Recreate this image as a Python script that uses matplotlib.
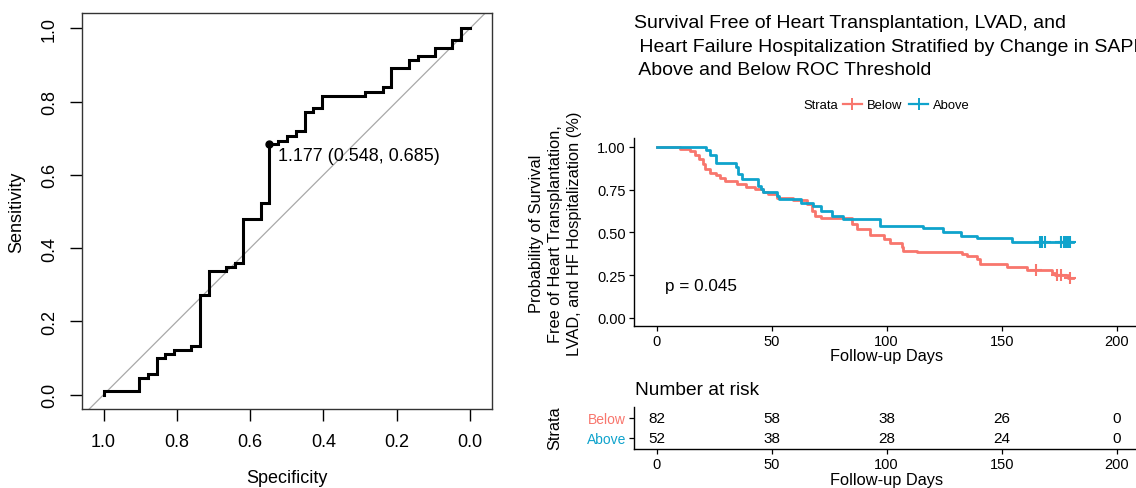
import matplotlib
matplotlib.use("Agg")
import matplotlib.pyplot as plt
from matplotlib.lines import Line2D

plt.rcParams['font.family'] = ['Liberation Sans', 'DejaVu Sans']

# ---------------- data ----------------
# ROC curve corner points (specificity, sensitivity)
roc_spec = [1.0, 1.0, 0.9035, 0.88, 0.855, 0.832, 0.807, 0.761, 0.737, 0.713,
            0.666, 0.642, 0.619, 0.570, 0.548, 0.523, 0.500, 0.476, 0.450, 0.428,
            0.404, 0.287, 0.238, 0.215, 0.166, 0.143, 0.095, 0.049, 0.025, 0.0]
roc_sens = [0.0, 0.011, 0.045, 0.057, 0.099, 0.111, 0.121, 0.133, 0.272, 0.338,
            0.348, 0.359, 0.479, 0.523, 0.685, 0.693, 0.707, 0.719, 0.772, 0.784,
            0.816, 0.827, 0.839, 0.892, 0.913, 0.925, 0.947, 0.969, 1.0, 1.0]
thr_label = "1.177 (0.548, 0.685)"
thr_spec, thr_sens = 0.548, 0.685
roc_ticks = [1.0, 0.8, 0.6, 0.4, 0.2, 0.0]

# Kaplan-Meier step functions
km_below_t = [0, 10.1, 14.5, 16.7, 18.5, 20, 21, 23.2, 25.8, 27.8, 29.7, 34.8, 39.1,
              42.7, 46.4, 48.5, 52.2, 59.4, 65.2, 67.4, 68.8, 71.7, 84.8, 87, 92.7,
              98.8, 101.3, 106.5, 107.2, 113, 132.6, 134.8, 139.1, 140.6, 152.2,
              160.9, 171.7, 173.2, 179, 181]
km_below_s = [1, 0.988, 0.975, 0.955, 0.926, 0.897, 0.868, 0.849, 0.833, 0.82, 0.8,
              0.781, 0.767, 0.752, 0.736, 0.723, 0.703, 0.69, 0.665, 0.626, 0.597,
              0.581, 0.548, 0.519, 0.484, 0.461, 0.436, 0.413, 0.393, 0.387, 0.374,
              0.364, 0.345, 0.316, 0.297, 0.281, 0.263, 0.248, 0.235, 0.235]
km_above_t = [0, 21.7, 23.2, 25.8, 34.5, 35.5, 37, 44.2, 45.2, 46.4, 52.2, 53.3, 63,
              68.1, 71.7, 76.1, 81.1, 97.1, 115.9, 124.6, 132.2, 139.4, 154.3, 181.1]
km_above_s = [1, 0.98, 0.955, 0.907, 0.884, 0.839, 0.814, 0.771, 0.752, 0.733, 0.713,
              0.694, 0.674, 0.655, 0.626, 0.597, 0.577, 0.538, 0.523, 0.5, 0.48,
              0.465, 0.442, 0.442]
cens_below_t = [164.8, 174.0, 175.7, 179.7]
cens_below_s = [0.281, 0.248, 0.248, 0.235]
cens_above_t = [166.7, 167.6, 168.9, 176.0, 177.0, 178.0, 179.0, 179.8]
cens_above_s = [0.442] * 8
pval_text = "p = 0.045"

risk_times = [0, 50, 100, 150, 200]
risk_below = [82, 58, 38, 26, 0]
risk_above = [52, 38, 28, 24, 0]
strata = ["Below", "Above"]

RED = "#F8766D"
BLUE = "#0FA3CC"

W, H = 1136, 489
fig = plt.figure(figsize=(W / 100, H / 100), dpi=100)

def fx(px):
    return px / W

def fy(py):
    return 1 - py / H

# ---------------- ROC panel ----------------
ax = fig.add_axes([fx(82.3), fy(410), fx(492.3) - fx(82.3), fy(14) - fy(410)])
ax.set_xlim(1.058, -0.061)
ax.set_ylim(-0.039, 1.042)
ax.plot([1.2, -0.2], [-0.2, 1.2], color="#a8a8a8", lw=0.9, zorder=1)
ax.plot(roc_spec, roc_sens, color="black", lw=2.2, drawstyle="steps-post",
        solid_joinstyle="miter", zorder=3)
ax.plot([thr_spec], [thr_sens], "o", color="black", ms=5, zorder=4)
ax.text(0.525, 0.652, thr_label, fontsize=13, ha="left", va="center")
ax.set_xticks(roc_ticks)
ax.set_xticklabels([f"{v:.1f}" for v in roc_ticks])
ax.set_yticks(roc_ticks)
ax.set_yticklabels([f"{v:.1f}" for v in roc_ticks], rotation=90, va="center")
ax.tick_params(direction="out", length=8.5, width=1, labelsize=13, pad=9,
               colors="black")
for s in ax.spines.values():
    s.set_linewidth(1.0)
    s.set_color("#333333")
fig.text(fx(286.7), fy(478.3), "Specificity", fontsize=13, ha="center", va="center")
fig.text(fx(17), fy(212), "Sensitivity", fontsize=13, ha="center", va="center",
         rotation=90)

# ---------------- KM panel ----------------
L, R = 633.5, 1139.7
km = fig.add_axes([fx(L), fy(327.3), fx(R) - fx(L), fy(139.3) - fy(327.3)])
km.set_xlim(-10, 210)
km.set_ylim(-0.05, 1.05)
km.plot(km_below_t, km_below_s, color=RED, lw=2.0, drawstyle="steps-post")
km.plot(km_above_t, km_above_s, color=BLUE, lw=2.0, drawstyle="steps-post")
km.plot(cens_below_t, cens_below_s, "+", color=RED, ms=8, mew=1.5)
km.plot(cens_above_t, cens_above_s, "+", color=BLUE, ms=8, mew=1.5)
km.text(3.6, 0.19, pval_text, fontsize=12.3, ha="left", va="center")
km.set_xticks(risk_times)
km.set_yticks([0, 0.25, 0.5, 0.75, 1.0])
km.set_yticklabels(["0.00", "0.25", "0.50", "0.75", "1.00"])
km.tick_params(direction="out", length=3.5, width=0.9, labelsize=10.5, pad=2,
               colors="black")
for side in ["top", "right"]:
    km.spines[side].set_visible(False)
for side in ["left", "bottom"]:
    km.spines[side].set_linewidth(1.0)
fig.text(fx(886.6), fy(357), "Follow-up Days", fontsize=11.8, ha="center", va="center")
for xpx, line in zip([536.7, 555.5, 575], ["Probability of Survival",
                                          "Free of Heart Transplantation,",
                                          "LVAD, and HF Hospitalization (%)"]):
    fig.text(fx(xpx), fy(234), line, fontsize=11.8, ha="center", va="center",
             rotation=90)

# title (second line is clipped by the right edge, as in the original)
for ypx, line in zip([24, 47.5, 70.5], ["Survival Free of Heart Transplantation, LVAD, and",
                                        " Heart Failure Hospitalization Stratified by Change in SAPI",
                                        " Above and Below ROC Threshold"]):
    fig.text(fx(634), fy(ypx), line, fontsize=14.0, ha="left", va="center")

# legend
handles = [Line2D([], [], color=RED, lw=1.6, marker="+", ms=8, mew=1.4),
           Line2D([], [], color=BLUE, lw=1.6, marker="+", ms=8, mew=1.4)]
fig.legend(handles, strata, loc="center left", bbox_to_anchor=(fx(843), fy(106)),
           ncol=2, frameon=False, fontsize=9.4, handlelength=1.45,
           handletextpad=0.35, columnspacing=0.55, borderpad=0, borderaxespad=0)
fig.text(fx(803), fy(106), "Strata", fontsize=9.4, ha="left", va="center")

# ---------------- risk table ----------------
tb = fig.add_axes([fx(L), fy(450), fx(R) - fx(L), fy(408) - fy(450)])
tb.set_xlim(-10, 210)
tb.set_ylim(0.45, 2.55)
for t, nb, na in zip(risk_times, risk_below, risk_above):
    tb.text(t, 2, str(nb), fontsize=11, ha="center", va="center")
    tb.text(t, 1, str(na), fontsize=11, ha="center", va="center")
tb.set_xticks(risk_times)
tb.set_yticks([2, 1])
tb.set_yticklabels(strata)
for lab, c in zip(tb.get_yticklabels(), [RED, BLUE]):
    lab.set_color(c)
tb.tick_params(direction="out", length=3.5, width=0.9, labelsize=10.5, pad=2)
tb.tick_params(axis="y", labelsize=10)
for side in ["top", "right"]:
    tb.spines[side].set_visible(False)
for side in ["left", "bottom"]:
    tb.spines[side].set_linewidth(1.0)
fig.text(fx(635), fy(390.7), "Number at risk", fontsize=13.8, ha="left", va="center")
fig.text(fx(886.6), fy(481), "Follow-up Days", fontsize=11.8, ha="center", va="center")
fig.text(fx(555), fy(428), "Strata", fontsize=11.7, ha="center", va="center", rotation=90)

fig.savefig("out.png", dpi=100)
